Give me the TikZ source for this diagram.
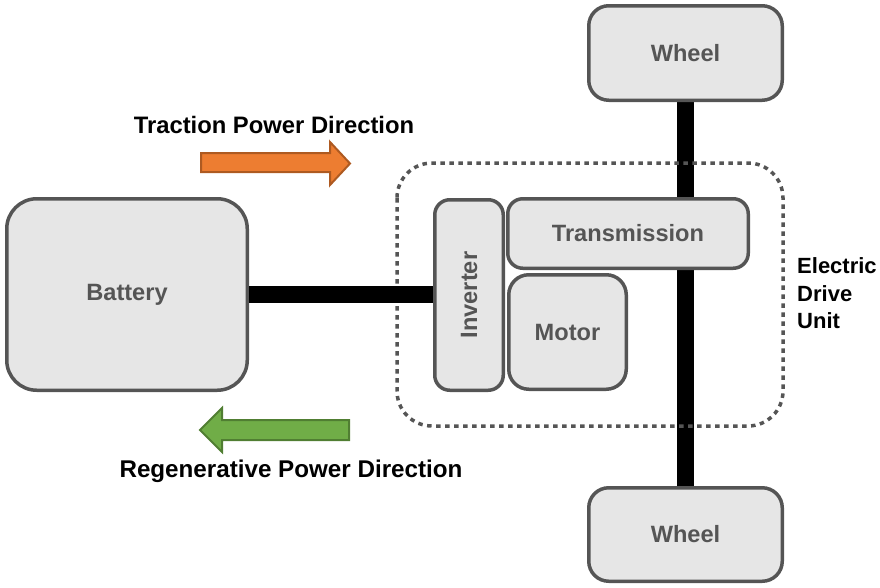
\documentclass[tikz,border=0pt]{standalone}
\usepackage{fontspec}
\setmainfont{Liberation Sans}
\usetikzlibrary{backgrounds}
\definecolor{boxfill}{HTML}{E6E6E6}
\definecolor{boxline}{HTML}{555555}
\definecolor{orfill}{HTML}{ED7D31}
\definecolor{orline}{HTML}{AE5A21}
\definecolor{grfill}{HTML}{70AD47}
\definecolor{grline}{HTML}{507E32}
\tikzset{
  part/.style={draw=boxline, fill=boxfill, line width=3.5pt, inner sep=0pt,
    text=boxline, font=\fontsize{23.6}{28}\selectfont\bfseries},
  shaft/.style={line width=17pt, draw=black},
  label/.style={inner sep=0pt, text=black, font=\fontsize{23.8}{28}\selectfont\bfseries},
  orarrow/.style={draw=orline, fill=orfill, line width=2pt, line join=miter},
  grarrow/.style={draw=grline, fill=grfill, line width=2pt, line join=miter},
  unitbox/.style={draw=boxline, line width=3.5pt, dash pattern=on 4.5pt off 4.5pt, rounded corners=35pt}
}
\begin{document}
\begin{tikzpicture}[x=1pt,y=-1pt]
\useasboundingbox (0,0) rectangle (880,587);
\node[part, rounded corners=20pt, minimum width=193.5pt, minimum height=94.5pt] (wheeltop) at (685.5,53) {Wheel};
\node[part, rounded corners=20pt, minimum width=193.5pt, minimum height=93.5pt] (wheelbot) at (685.5,534.5) {Wheel};
\draw[unitbox] (397,163) rectangle (783,426);
\node[part, rounded corners=30pt, minimum width=240.5pt, minimum height=191.5pt] (battery) at (127,294.5) {Battery};
\node[part, rounded corners=15pt, minimum width=68.5pt, minimum height=190.5pt] (inverter) at (469,295) {\rotatebox{90}{Inverter}};
\node[part, rounded corners=15pt, minimum width=240.5pt, minimum height=69.5pt] (transmission) at (628,233.5) {Transmission};
\node[part, rounded corners=20pt, minimum width=117.5pt, minimum height=114.5pt] (motor) at (567.5,332) {Motor};
\begin{scope}[on background layer]
\draw[shaft] (wheeltop.south) -- (wheelbot.north);
\end{scope}
\draw[shaft] (battery.east) -- (battery.east -| inverter.west);
% direction arrows
\draw[orarrow] (201,153) -- (330,153) -- (330,142) -- (350,163.5) -- (330,185) -- (330,172) -- (201,172) -- cycle;
\draw[grarrow] (349,420) -- (222,420) -- (222,408) -- (200,430) -- (222,452) -- (222,440) -- (349,440) -- cycle;
% labels
\node[label, anchor=base] (traction) at (274,133) {Traction Power Direction};
\node[label, anchor=base, font=\fontsize{24.2}{28}\selectfont\bfseries] (regen) at (291,477) {Regenerative Power Direction};
\node[label, anchor=north west, align=left, font=\fontsize{22}{27.5}\selectfont\bfseries] (edu) at (797,257.5) {Electric\\Drive\\Unit};
\end{tikzpicture}
\end{document}
